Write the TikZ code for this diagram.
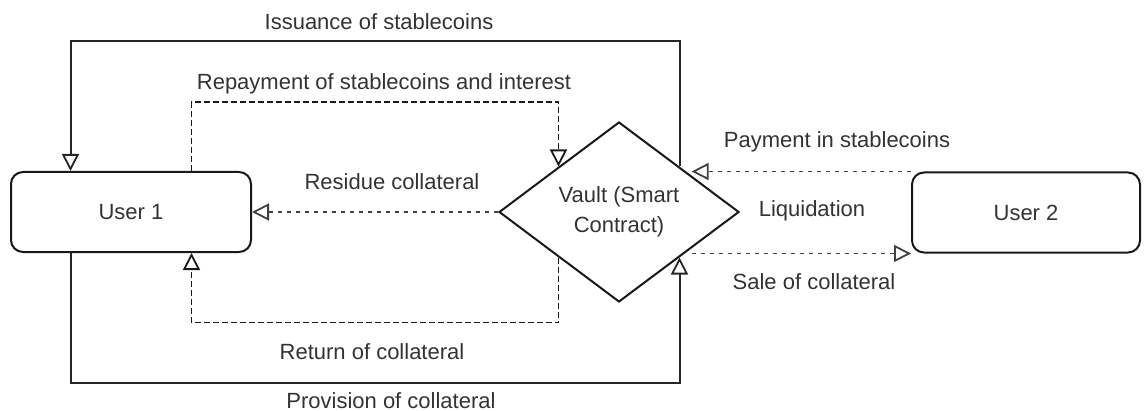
\documentclass[tikz,border=0pt]{standalone}
\usepackage{fontspec}
\setmainfont{Liberation Sans}
\usetikzlibrary{arrows.meta,shapes.geometric,calc}
\begin{document}
\begin{tikzpicture}[x=0.5pt,y=-0.5pt,
  txt/.style={font=\fontsize{11}{15}\selectfont, text=black!80, inner sep=0pt},
  userbox/.style={draw=black!90, line width=1pt, rounded corners=6pt, minimum width=120pt, minimum height=40pt, txt},
  vaultshape/.style={draw=black!90, line width=1pt, diamond, minimum width=120pt, minimum height=90pt, inner sep=0pt, aspect=1.333, txt, align=center},
  tip/.style={-{Triangle[open,length=8.5pt,width=8.5pt,line width=0.9pt]}},
  solidline/.style={tip, draw=black!85, line width=1pt},
  dashline/.style={tip, draw=black!90, line width=0.8pt, dash pattern=on 3pt off 1.5pt},
  dotline/.style={tip, draw=black!75, line width=0.6pt, dash pattern=on 2pt off 2.5pt},
  lbl/.style={txt}
]
\useasboundingbox (0,0) rectangle (1144,411);

\node[userbox] (u1) at (131,212) {User 1};
\node[userbox, minimum width=114pt] (u2) at (1026,212.5) {User 2};
\node[vaultshape] (vault) at (619,212) {Vault (Smart\\Contract)};

\coordinate (u1nw) at ($(u1.north west)!0.25!(u1.north east)$);
\coordinate (u1ne) at ($(u1.north west)!0.75!(u1.north east)$);
\coordinate (u1sw) at ($(u1.south west)!0.25!(u1.south east)$);
\coordinate (u1se) at ($(u1.south west)!0.75!(u1.south east)$);
\coordinate (pe) at ($(vault.north east)!0.2!(vault.east)$);
\coordinate (se) at ($(vault.south east)!0.2!(vault.east)$);

% Issuance of stablecoins
\draw[solidline] (vault.north east) -- ++(0,-125) -| (u1nw);
% Provision of collateral
\draw[solidline] (u1sw) -- ++(0,130) -| (vault.south east);
% Repayment
\draw[dashline] (u1ne) -- ++(0,-69) -| (vault.north west);
% Return of collateral
\draw[dashline] (vault.south west) -- ++(0,65) -| (u1se);
% Residue collateral
\draw[dotline] (vault.west) -- (u1.east);
% Payment in stablecoins
\draw[dotline] (u2.north west) -- (u2.north west -| pe);
% Sale of collateral
\draw[dotline] (u2.south west -| se) -- (u2.south west);

\node[lbl] (l1) at (379,22) {Issuance of stablecoins};
\node[lbl] (l2) at (384,84) {Repayment of stablecoins and interest};
\node[lbl] (l3) at (392,182) {Residue collateral};
\node[lbl] (l4) at (372,352) {Return of collateral};
\node[lbl] (l5) at (391,401) {Provision of collateral};
\node[lbl] (l6) at (837,142) {Payment in stablecoins};
\node[lbl] (l7) at (812,211) {Liquidation};
\node[lbl] (l8) at (814,282) {Sale of collateral};
\end{tikzpicture}
\end{document}
